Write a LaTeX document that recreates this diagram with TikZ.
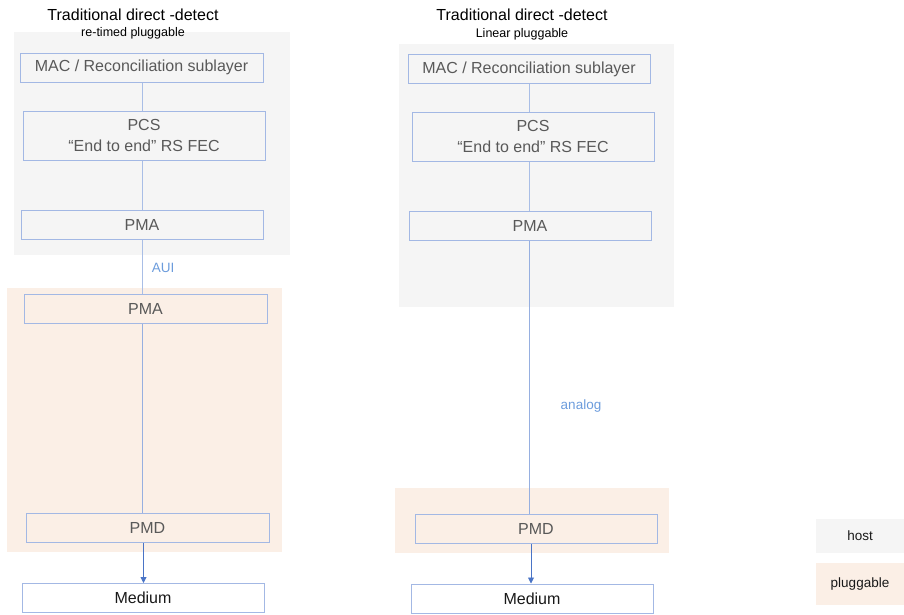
\documentclass[tikz,border=0pt]{standalone}
\usepackage{fontspec}
\setmainfont{Liberation Sans}
\usetikzlibrary{arrows.meta}
\definecolor{hostbg}{HTML}{F5F5F5}
\definecolor{plugbg}{HTML}{FBEFE6}
\definecolor{boxline}{HTML}{A3B8E4}
\definecolor{linkline}{HTML}{A9BEE6}
\definecolor{arrowline}{HTML}{4A74C6}
\definecolor{boxtext}{HTML}{595959}
\definecolor{labeltext}{HTML}{6C9CDC}
\tikzset{
  layer/.style={draw=boxline, line width=1pt, inner sep=0pt, minimum height=29pt,
    text=boxtext, font=\fontsize{16}{20}\selectfont, align=center},
  medium/.style={layer, fill=white, text=black!90},
  hostarea/.style={fill=hostbg},
  plugarea/.style={fill=plugbg},
  link/.style={draw=linkline, line width=1pt},
  feed/.style={draw=arrowline, line width=0.9pt, -{Triangle[length=6pt,width=6pt]}},
  heading/.style={font=\fontsize{16}{20}\selectfont, text=black},
  subheading/.style={font=\fontsize{12.5}{15}\selectfont, text=black},
  iflabel/.style={font=\fontsize{13.5}{16}\selectfont, text=labeltext},
  keybox/.style={inner sep=0pt, font=\fontsize{13.5}{16}\selectfont, text=black!90}
}
\begin{document}
\begin{tikzpicture}[x=1pt, y=-1pt]
\useasboundingbox (0,0) rectangle (904,614);

% shaded areas: host side and pluggable module
\fill[hostarea] (14,32) rectangle (290,255);
\fill[plugarea] (7,288) rectangle (282,552);
\fill[hostarea] (399,44) rectangle (674,307);
\fill[plugarea] (395,488) rectangle (669,553);

% left stack: re-timed pluggable
\node[heading] (t1) at (133,15) {Traditional direct -detect};
\node[subheading] (s1) at (133,33) {re-timed pluggable};
\node[layer, minimum width=243pt] (mac1) at (141.5,67.5) {MAC / Reconciliation sublayer};
\node[layer, minimum width=242pt, minimum height=49pt] (pcs1) at (144,135.5) {PCS\\[1pt]\textquotedblleft End to end\textquotedblright{} RS FEC};
\node[layer, minimum width=242pt] (pma1) at (142,224.5) {PMA};
\node[layer, minimum width=243pt] (pmb1) at (145.5,309) {PMA};
\node[layer, minimum width=243pt] (pmd1) at (147.5,527.5) {PMD};
\node[medium, minimum width=242pt] (med1) at (143,598) {Medium};

\coordinate (x1) at (142,0);
\draw[link] (mac1.south -| x1) -- (pcs1.north -| x1);
\draw[link] (pcs1.south -| x1) -- (pma1.north -| x1);
\draw[link] (pma1.south -| x1) -- (pmb1.north -| x1);
\draw[link, draw=linkline!80!arrowline] (pmb1.south -| x1) -- (pmd1.north -| x1);
\coordinate (x1b) at (143.5,0);
\draw[feed] (pmd1.south -| x1b) -- (med1.north -| x1b);
\node[iflabel] (aui) at (163,268) {AUI};

% right stack: linear pluggable
\node[heading] (t2) at (522,15) {Traditional direct -detect};
\node[subheading] (s2) at (522,34) {Linear pluggable};
\node[layer, minimum width=242pt] (mac2) at (529,69) {MAC / Reconciliation sublayer};
\node[layer, minimum width=242pt, minimum height=49pt] (pcs2) at (533,136.5) {PCS\\[1pt]\textquotedblleft End to end\textquotedblright{} RS FEC};
\node[layer, minimum width=242pt] (pma2) at (530,225.5) {PMA};
\node[layer, minimum width=242pt] (pmd2) at (536,528.5) {PMD};
\node[medium, minimum width=242pt] (med2) at (532,598.5) {Medium};

\coordinate (x2) at (529.5,0);
\draw[link] (mac2.south -| x2) -- (pcs2.north -| x2);
\draw[link] (pcs2.south -| x2) -- (pma2.north -| x2);
\draw[link, draw=linkline!80!arrowline] (pma2.south -| x2) -- (pmd2.north -| x2);
\coordinate (x2b) at (531,0);
\draw[feed] (pmd2.south -| x2b) -- (med2.north -| x2b);
\node[iflabel] (analog) at (581,406) {analog};

% key
\node[keybox, fill=hostbg, minimum width=88pt, minimum height=34pt] (khost) at (860,536) {host};
\node[keybox, fill=plugbg, minimum width=88pt, minimum height=42pt] (kplug) at (860,584) {pluggable};
\end{tikzpicture}
\end{document}
